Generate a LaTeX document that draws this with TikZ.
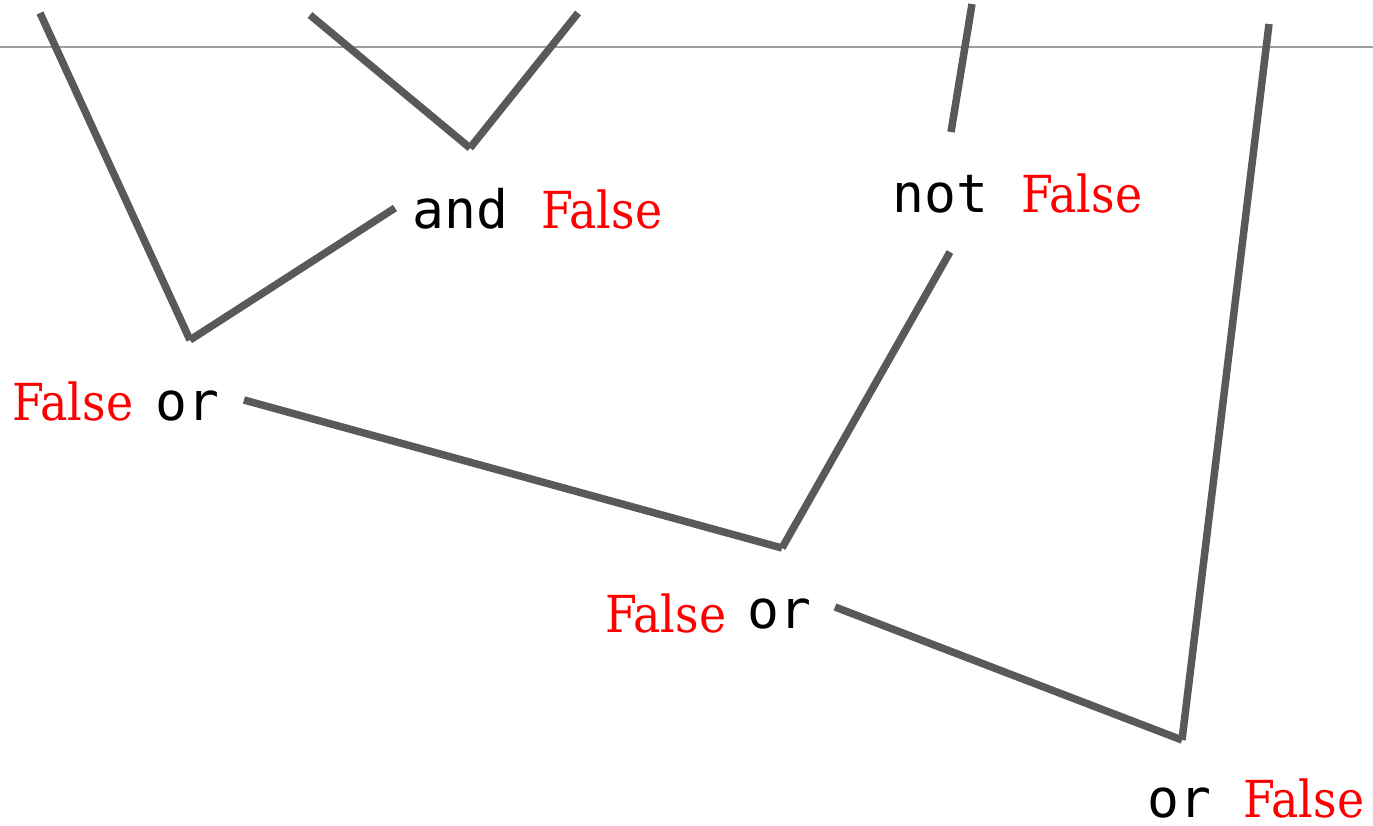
\documentclass[tikz,border=0pt]{standalone}
\usepackage{fontspec}
\newfontfamily\kwfont{DejaVu Sans Mono}
\newfontfamily\valfont{DejaVu Serif Condensed}
\begin{document}
\begin{tikzpicture}[x=1pt,y=-1pt,
  conn/.style={draw=black!65,line width=7.5pt},
  kw/.style={anchor=base west,inner sep=0pt,font=\kwfont\fontsize{53}{60}\selectfont,text=black},
  val/.style={anchor=base west,inner sep=0pt,font=\valfont\fontsize{51}{60}\selectfont,text=red}]
\path[use as bounding box] (0,0) rectangle (1373,825);
\draw[black!38,line width=1.8pt] (0,47) -- (1373,47);
% coordinates
\coordinate (a1) at (40,13);
\coordinate (a2) at (190,340);
\coordinate (a3) at (395,208);
\coordinate (b1) at (310,15);
\coordinate (b2) at (470,148);
\coordinate (b3) at (578,13);
\coordinate (c1) at (972,4);
\coordinate (c2) at (951,132);
\coordinate (d1) at (950,252);
\coordinate (d2) at (782,548);
\coordinate (d3) at (244,400);
\coordinate (e1) at (1269,24);
\coordinate (e2) at (1182,740);
\coordinate (e3) at (835,607);
\draw[conn] (a1) -- (a2);
\draw[conn] (a2) -- (a3);
\draw[conn] (b1) -- (b2);
\draw[conn] (b2) -- (b3);
\draw[conn] (c1) -- (c2);
\draw[conn] (d1) -- (d2);
\draw[conn] (d2) -- (d3);
\draw[conn] (e1) -- (e2);
\draw[conn] (e2) -- (e3);
% labels
\node[kw] (and) at (412,228) {and};
\node[val] (f1) at (541,228) {False};
\node[kw] (not) at (892,212) {not};
\node[val] (f2) at (1021,212) {False};
\node[val] (f3) at (12,420) {False};
\node[kw] (or1) at (155,420) {or};
\node[val] (f4) at (605,632) {False};
\node[kw] (or2) at (747,628) {or};
\node[kw] (or3) at (1147,817) {or};
\node[val] (f5) at (1243,817) {False};
\end{tikzpicture}
\end{document}
